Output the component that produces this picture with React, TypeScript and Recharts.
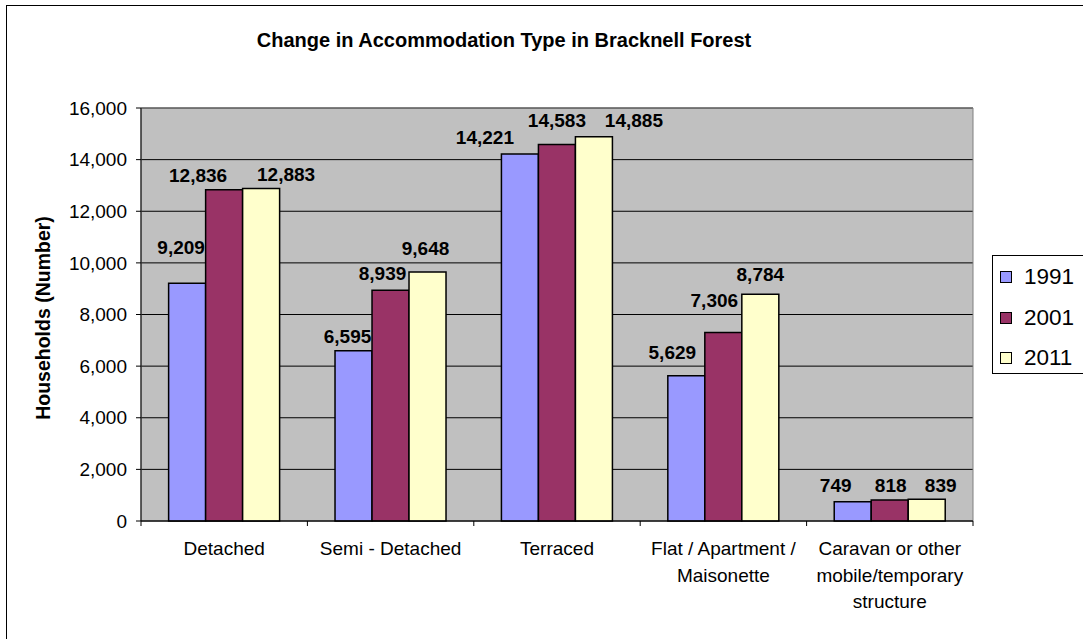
import React from 'react'
import {
  BarChart,
  Bar,
  XAxis,
  YAxis,
  CartesianGrid,
  LabelList,
  ReferenceArea,
} from 'recharts'

const categories = [
  'Detached',
  'Semi - Detached',
  'Terraced',
  'Flat / Apartment / Maisonette',
  'Caravan or other mobile/temporary structure',
]
const categoryLines = [
  ['Detached'],
  ['Semi - Detached'],
  ['Terraced'],
  ['Flat / Apartment /', 'Maisonette'],
  ['Caravan or other', 'mobile/temporary', 'structure'],
]
const values1991 = [9209, 6595, 14221, 5629, 749]
const values2001 = [12836, 8939, 14583, 7306, 818]
const values2011 = [12883, 9648, 14885, 8784, 839]
const yTicks = [0, 2000, 4000, 6000, 8000, 10000, 12000, 14000, 16000]

const SERIES = [
  { key: 'y1991', name: '1991', color: '#9999FF' },
  { key: 'y2001', name: '2001', color: '#993366' },
  { key: 'y2011', name: '2011', color: '#FFFFCC' },
]

// labels were dragged by hand in the original: [dx from bar centre, gap above bar top]
const LABEL_NUDGE: Record<string, [number, number][]> = {
  y1991: [[-6, 29], [-6, 8], [-35, 10], [-14, 17], [-17, 10]],
  y2001: [[-26, 8], [-8, 10], [0, 18], [-9, 25], [1, 8]],
  y2011: [[25, 7], [-2, 17], [40, 10], [0, 13], [14, 7]],
}

const data = categories.map((c, i) => ({
  name: c,
  y1991: values1991[i],
  y2001: values2001[i],
  y2011: values2011[i],
}))

const FONT = '"Liberation Sans", Arial, sans-serif'
const fmt = (v: number) => Number(v).toLocaleString('en-US')

function CategoryTick(props: any) {
  const { x, y, payload, index } = props
  const band = 166.4
  const lines = categoryLines[payload.index ?? index] || [payload.value]
  return (
    <g>
      <line x1={x - band / 2} y1={y - 8} x2={x - band / 2} y2={y - 3} stroke="#000" />
      {index === categories.length - 1 && (
        <line x1={x + band / 2} y1={y - 8} x2={x + band / 2} y2={y - 3} stroke="#000" />
      )}
      {lines.map((l: string, i: number) => (
        <text
          key={i}
          x={x}
          y={y + 26 + i * 26.5}
          textAnchor="middle"
          fontSize={19}
          fontFamily={FONT}
          fill="#000"
        >
          {l}
        </text>
      ))}
    </g>
  )
}

function makeLabel(seriesKey: string) {
  return function ValueLabel(props: any) {
    const { x, y, width, value, index } = props
    const [dx, rise] = LABEL_NUDGE[seriesKey][index] || [0, 8]
    return (
      <text
        x={x + width / 2 + dx}
        y={y - rise}
        textAnchor="middle"
        fontSize={19}
        fontWeight="bold"
        fontFamily={FONT}
        fill="#000"
      >
        {fmt(value)}
      </text>
    )
  }
}

export default function App() {
  return (
    <div
      style={{
        position: 'absolute',
        left: 0,
        top: 0,
        width: 1083,
        height: 639,
        background: '#fff',
        overflow: 'hidden',
        fontFamily: FONT,
      }}
    >
      <div
        style={{
          position: 'absolute',
          left: 6,
          top: 5,
          width: 1090,
          height: 650,
          border: '1px solid #000',
        }}
      />
      <div
        style={{
          position: 'absolute',
          left: 0,
          top: 28,
          width: 1008,
          textAlign: 'center',
          fontSize: 20,
          fontWeight: 'bold',
          lineHeight: '24px',
        }}
      >
        Change in Accommodation Type in Bracknell Forest
      </div>
      <div
        style={{
          position: 'absolute',
          left: 43,
          top: 318,
          transform: 'translate(-50%, -50%) rotate(-90deg)',
          whiteSpace: 'nowrap',
          fontSize: 19.5,
          fontWeight: 'bold',
        }}
      >
        Households (Number)
      </div>
      <div style={{ position: 'absolute', left: 0, top: 0 }}>
        <BarChart
          width={1083}
          height={639}
          data={data}
          margin={{ top: 108, right: 110, bottom: 18, left: 46 }}
          barCategoryGap="16.6%"
          barGap={0}
        >
          <CartesianGrid vertical={false} stroke="#000" fill="#C0C0C0" fillOpacity={1} />
          <ReferenceArea y1={0} y2={16000} fill="none" stroke="#808080" strokeWidth={1} ifOverflow="visible" />
          <XAxis
            dataKey="name"
            height={100}
            tickLine={false}
            axisLine={{ stroke: '#000' }}
            interval={0}
            tick={<CategoryTick />}
          />
          <YAxis
            width={95}
            domain={[0, 16000]}
            ticks={yTicks}
            tickFormatter={fmt}
            tick={{ fontSize: 19, fill: '#000', fontFamily: FONT }}
            tickSize={5}
            tickMargin={9}
            tickLine={{ stroke: '#000' }}
            axisLine={{ stroke: '#000' }}
          />
          {SERIES.map((s) => {
            const Label = makeLabel(s.key)
            return (
              <Bar
                key={s.key}
                dataKey={s.key}
                name={s.name}
                fill={s.color}
                stroke="#000"
                strokeWidth={1.5}
                isAnimationActive={false}
              >
                <LabelList dataKey={s.key} content={<Label />} />
              </Bar>
            )
          })}
        </BarChart>
      </div>
      <div
        style={{
          position: 'absolute',
          left: 992,
          top: 255,
          width: 100,
          height: 117,
          border: '1px solid #000',
          background: '#fff',
        }}
      >
        {SERIES.map((s, i) => (
          <div
            key={s.key}
            style={{
              position: 'absolute',
              left: 7,
              top: 7 + i * 40.5,
              height: 28,
              display: 'flex',
              alignItems: 'center',
              fontSize: 22.5,
            }}
          >
            <span
              style={{
                display: 'inline-block',
                width: 10,
                height: 10,
                background: s.color,
                border: '1px solid #000',
                marginRight: 12,
              }}
            />
            {s.name}
          </div>
        ))}
      </div>
    </div>
  )
}
